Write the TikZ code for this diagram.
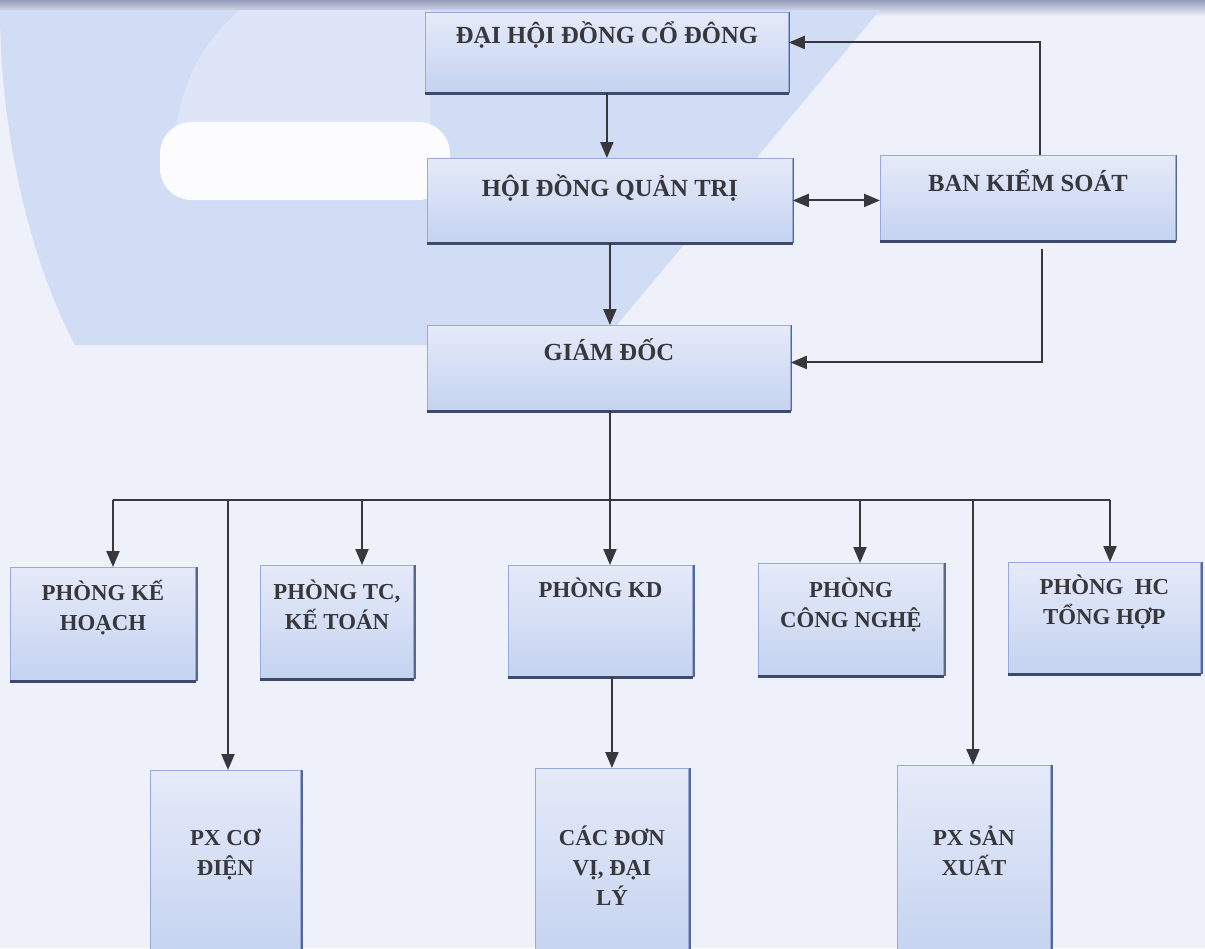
\documentclass[tikz,border=0pt]{standalone}
\usepackage{fontspec}
\setmainfont{Liberation Serif}
\usepackage{xcolor}
\usepackage{tikz}
\usetikzlibrary{arrows.meta,calc}
\definecolor{paper}{RGB}{238,240,250}
\definecolor{topgray}{RGB}{150,158,188}
\definecolor{wmblue}{RGB}{208,221,244}
\definecolor{wmlight}{RGB}{222,229,248}
\definecolor{boxtop}{RGB}{230,234,249}
\definecolor{boxbot}{RGB}{196,211,240}
\definecolor{boxedge}{RGB}{150,170,222}
\definecolor{shade}{RGB}{62,74,108}
\definecolor{ink}{RGB}{55,55,60}
\tikzset{
  orgbox/.style={draw=boxedge, line width=0.5pt, top color=boxtop, bottom color=boxbot, anchor=north west, inner sep=0pt, align=center, text=ink, font=\bfseries\fontsize{14}{17}\selectfont},
  deptbox/.style={orgbox, font=\bfseries\fontsize{13}{17}\selectfont},
  conn/.style={draw=ink, line width=1.2pt},
  arr/.style={conn, -{Triangle[length=0.32cm, width=0.26cm]}},
  darr/.style={conn, {Triangle[length=0.32cm, width=0.26cm]}-{Triangle[length=0.32cm, width=0.26cm]}},
  baseshade/.style={draw=shade, line width=1.6pt},
  sideshade/.style={draw=shade!70!boxedge, line width=0.9pt}
}

\begin{document}
\begin{tikzpicture}[x=0.02cm, y=-0.02cm]
	\useasboundingbox (0,0) rectangle (1205,948);
	% background and watermark
	\fill[paper] (0,0) rectangle (1205,948);
	\shade[top color=topgray, bottom color=paper] (0,0) rectangle (1205,16);
	\fill[wmblue] (0,10) -- (880,10) -- (600,345) -- (75,345) .. controls (25,250) and (0,120) .. (0,10) -- cycle;
	\fill[wmlight] (240,10) -- (430,10) -- (430,140) -- (175,140) .. controls (180,80) and (205,40) .. (240,10) -- cycle;
	\fill[white!80!paper, rounded corners=18pt] (160,122) -- (450,122) -- (450,200) -- (160,200) -- cycle;

	% boxes
	\node[orgbox, minimum width=7.26cm, text height=0.62cm, text depth=0.98cm] (dhdcd) at (425,12) {ĐẠI HỘI ĐỒNG CỔ ĐÔNG};
	\node[orgbox, minimum width=7.30cm, text height=0.76cm, text depth=0.92cm] (hdqt) at (427,158) {HỘI ĐỒNG QUẢN TRỊ};
	\node[orgbox, minimum width=5.90cm, text height=0.72cm, text depth=0.98cm] (bks) at (880,155) {BAN KIỂM SOÁT};
	\node[orgbox, minimum width=7.26cm, text height=0.70cm, text depth=1.00cm] (gd) at (427,325) {GIÁM ĐỐC};

	\node[deptbox, minimum width=3.70cm, text height=1.26cm, text depth=1.00cm] (kh) at (10,567) {PHÒNG KẾ\\HOẠCH};
	\node[deptbox, minimum width=3.06cm, text height=1.28cm, text depth=0.98cm] (tc) at (260,565) {PHÒNG TC,\\KẾ TOÁN};
	\node[deptbox, minimum width=3.68cm, text height=0.64cm, text depth=1.58cm] (kd) at (508,565) {PHÒNG KD};
	\node[deptbox, minimum width=3.70cm, text height=1.28cm, text depth=0.96cm] (cn) at (758,563) {PHÒNG\\CÔNG NGHỆ};
	\node[deptbox, minimum width=3.84cm, text height=1.24cm, text depth=0.98cm] (hc) at (1008,562) {PHÒNG~ HC\\TỔNG HỢP};

	\node[deptbox, minimum width=3.00cm, text height=2.10cm, text depth=1.70cm] (pxcd) at (150,770) {PX CƠ\\ĐIỆN};
	\node[deptbox, minimum width=3.06cm, text height=2.74cm, text depth=1.10cm] (cdv) at (535,768) {CÁC ĐƠN\\VỊ, ĐẠI\\LÝ};
	\node[deptbox, minimum width=3.06cm, text height=2.20cm, text depth=1.70cm] (pxsx) at (897,765) {PX SẢN\\XUẤT};

	% box shadows
	\foreach \b in {dhdcd,hdqt,bks,gd,kh,tc,kd,cn,hc}
		\draw[baseshade] ([yshift=-0.5pt]\b.south west) -- ([yshift=-0.5pt]\b.south east);
	\foreach \b in {dhdcd,hdqt,bks,gd,kh,tc,kd,cn,hc,pxcd,cdv,pxsx}
		\draw[sideshade] ([xshift=0.5pt]\b.north east) -- ([xshift=0.5pt]\b.south east);

	% upper connectors
	\draw[arr] (dhdcd.south) -- (dhdcd.south |- hdqt.north);
	\draw[arr] (hdqt.south) -- (hdqt.south |- gd.north);
	\draw[darr] (hdqt.east) -- (hdqt.east -| bks.west);
	\draw[arr] ([xshift=0.25cm]bks.north) |- ([yshift=0.2cm]dhdcd.east);
	\draw[arr] ([xshift=0.29cm, yshift=-0.16cm]bks.south) |- ([yshift=0.11cm]gd.east);

	% bus to departments
	\foreach \b/\x in {kh/113, pxcd/228, tc/362, kd/610, cn/860, pxsx/973, hc/1110}
		\coordinate (j\b) at (\x,500);
	\draw[conn] (jkd |- gd.south) -- (jkd);
	\draw[conn] (jkh) -- (jhc);
	\foreach \b in {kh,pxcd,tc,kd,cn,pxsx,hc}
		\draw[arr] (j\b) -- (j\b |- \b.north);
	\draw[arr] (cdv.north |- kd.south) -- (cdv.north);
\end{tikzpicture}
\end{document}
